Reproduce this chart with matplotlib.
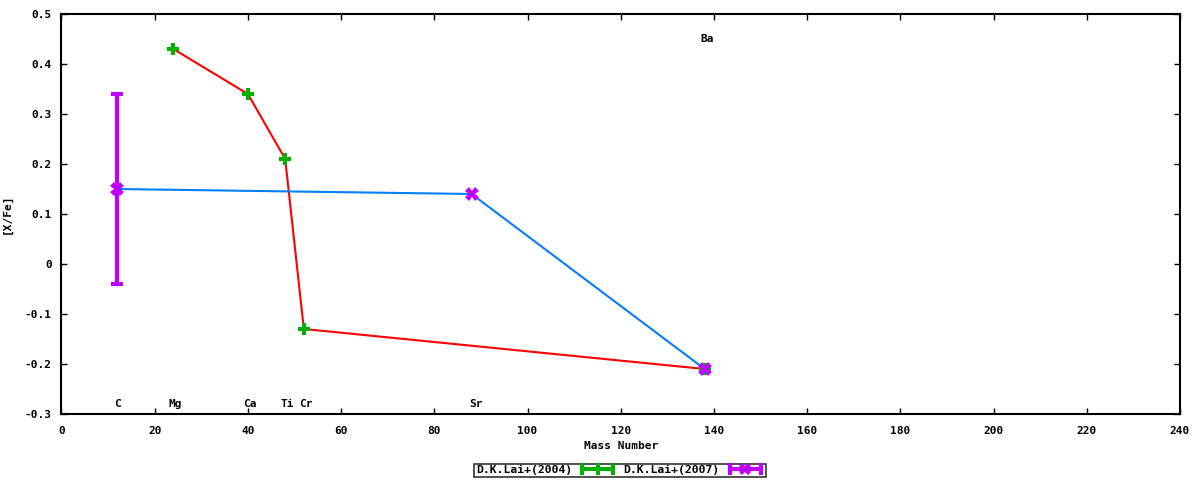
import numpy as np
import matplotlib
matplotlib.use("Agg")
import matplotlib.pyplot as plt
from matplotlib.lines import Line2D
from matplotlib.legend_handler import HandlerLine2D, HandlerTuple

# ---- data ----
elements_2004 = ["Mg", "Ca", "Ti", "Cr", "Ba"]
mass_2004 = [24, 40, 48, 52, 138]
xfe_2004 = [0.43, 0.34, 0.21, -0.13, -0.21]

elements_2007 = ["C", "Sr", "Ba"]
mass_2007 = [12, 88, 138]
xfe_2007 = [0.15, 0.14, -0.21]
err_2007 = [0.19, 0.0, 0.0]

label_names = ["C", "Mg", "Ca", "Ti", "Cr", "Sr", "Ba"]
label_x = [12, 24.5, 40.5, 48.5, 52.5, 89, 138.5]
label_y = [-0.28, -0.28, -0.28, -0.28, -0.28, -0.28, 0.45]

xticks = [0, 20, 40, 60, 80, 100, 120, 140, 160, 180, 200, 220, 240]
yticks = [-0.3, -0.2, -0.1, 0, 0.1, 0.2, 0.3, 0.4, 0.5]
ytick_labels = ["-0.3", "-0.2", "-0.1", "0", "0.1", "0.2", "0.3", "0.4", "0.5"]

series_names = ["D.K.Lai+(2004)", "D.K.Lai+(2007)"]

# ---- style ----
plt.rcParams['font.family'] = ['DejaVu Sans Mono']
plt.rcParams['font.weight'] = 'bold'
plt.rcParams['font.size'] = 8
plt.rcParams['axes.unicode_minus'] = False

fig = plt.figure(figsize=(12, 4.8), dpi=100)
ax = fig.add_axes([61.5/1200, 1 - 414/480, (1180 - 61.5)/1200, (414 - 14)/480])

green = "#00b000"
magenta = "#c000ff"
red = "#ff0000"
blue = "#0080ff"

# connecting lines
ax.plot(mass_2004, xfe_2004, color=red, lw=1.5, zorder=2)
ax.plot(mass_2007, xfe_2007, color=blue, lw=1.5, zorder=2)

# error bars for 2007 (only nonzero)
ex = [m for m, e in zip(mass_2007, err_2007) if e > 0]
ey = [v for v, e in zip(xfe_2007, err_2007) if e > 0]
ee = [e for e in err_2007 if e > 0]
ax.errorbar(ex, ey, yerr=ee, fmt='none', ecolor=magenta, elinewidth=3,
            capsize=4, capthick=3, zorder=3)

# markers
ax.plot(mass_2004, xfe_2004, linestyle='none', marker='P', markersize=8.5,
        color=green, markeredgewidth=0, zorder=4)
ax.plot(mass_2007, xfe_2007, linestyle='none', marker='X', markersize=9.5,
        color=magenta, markeredgewidth=0, zorder=5)

# element labels
for n, x, y in zip(label_names, label_x, label_y):
    ax.text(x, y, n, ha='center', va='center', fontsize=8, fontweight='bold')

ax.set_xlim(0, 240)
ax.set_ylim(-0.3, 0.5)
ax.set_xticks(xticks)
ax.set_xticklabels([str(t) for t in xticks])
ax.set_yticks(yticks)
ax.set_yticklabels(ytick_labels)
ax.tick_params(direction='in', length=4, width=1, top=True, right=True)
ax.tick_params(axis='x', pad=9)
ax.tick_params(axis='y', pad=7)
for s in ax.spines.values():
    s.set_linewidth(1.5)

ax.set_xlabel("Mass Number", fontsize=8, fontweight='bold')
ax.xaxis.set_label_coords(0.5, -(441 - 414) / 400)
ax.set_ylabel("[X/Fe]", fontsize=8, fontweight='bold')
ax.yaxis.set_label_coords((12 - 61.5) / 1118.5, 0.5)

# legend handles styled like gnuplot samples (horizontal bar with end caps)
bar1 = Line2D([], [], color=green, lw=3, marker='|', markersize=8, markeredgewidth=3)
pt1 = Line2D([], [], color=green, linestyle='none', marker='P', markersize=8, markeredgewidth=0)
bar2 = Line2D([], [], color=magenta, lw=3, marker='|', markersize=8, markeredgewidth=3)
pt2 = Line2D([], [], color=magenta, linestyle='none', marker='X', markersize=9, markeredgewidth=0)
hmap = {bar1: HandlerLine2D(numpoints=2), bar2: HandlerLine2D(numpoints=2),
        pt1: HandlerLine2D(numpoints=1), pt2: HandlerLine2D(numpoints=1),
        tuple: HandlerTuple(ndivide=1, pad=0)}
leg = fig.legend([(bar1, pt1), (bar2, pt2)], series_names, loc='lower center',
                 bbox_to_anchor=(0.5167, 0.006), ncol=2, markerfirst=False,
                 frameon=True, fancybox=False, edgecolor='black',
                 handlelength=3.3, handletextpad=0.6, columnspacing=0.6,
                 borderpad=0.15, borderaxespad=0.0, fontsize=8.2,
                 handler_map=hmap)
leg.get_frame().set_linewidth(1.2)

fig.savefig("out.png", dpi=100)
